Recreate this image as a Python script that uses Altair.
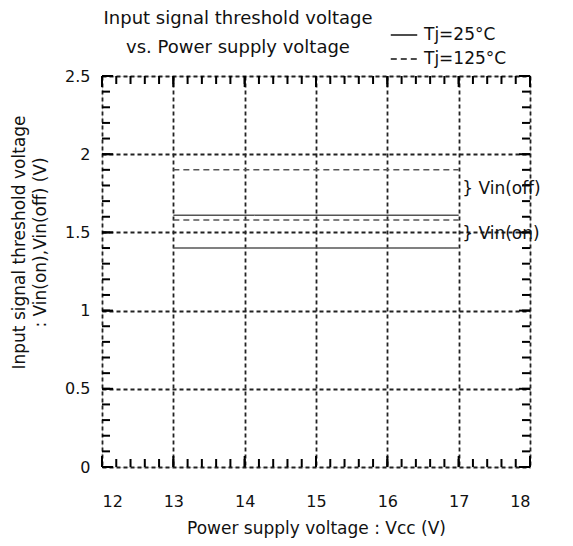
import altair as alt
import pandas as pd
import numpy as np

# ---- data ----
vcc_start = [13, 13, 13, 13]
vcc_end = [17, 17, 17, 17]
levels = [1.61, 1.40, 1.90, 1.58]
series = ["Tj=25°C", "Tj=25°C", "Tj=125°C", "Tj=125°C"]
line_id = ["on25", "off25", "off125", "on125"]

ann_text = ["} Vin(off)", "} Vin(on)"]
ann_x = [17.05, 17.05]
ann_y = [1.78, 1.49]

x_ticks = [12, 13, 14, 15, 16, 17, 18]
y_ticks = [0, 0.5, 1, 1.5, 2, 2.5]
title_lines = ["Input signal threshold voltage", "vs. Power supply voltage"]

W, H = 428, 391
FONT = "DejaVu Sans"

rows = []
for s, e, v, sr, lid in zip(vcc_start, vcc_end, levels, series, line_id):
    rows.append({"vcc": s, "v": v, "series": sr, "id": lid})
    rows.append({"vcc": e, "v": v, "series": sr, "id": lid})
df = pd.DataFrame(rows)

xs = alt.Scale(domain=[12, 18], nice=False, zero=False)
ys = alt.Scale(domain=[0, 2.5], nice=False)

base_x_axis = alt.Axis(values=x_ticks, grid=True, gridDash=[4, 3],
                       gridColor="#222", gridWidth=1.8, ticks=False, domain=False,
                       labelExpr="format(datum.value, 'd')",
                       labelFont=FONT, labelFontSize=16, labelPadding=26, labelColor="#111",
                       title="Power supply voltage : Vcc (V)", titleFont=FONT, titleFontSize=17,
                       titleFontWeight="normal", titleColor="#111", titleY=61, titleBaseline="middle")
base_y_axis = alt.Axis(values=y_ticks, grid=True, gridDash=[4, 3],
                       gridColor="#222", gridWidth=1.8, ticks=False, domain=False,
                       labelFont=FONT, labelFontSize=16, labelPadding=12, labelColor="#111",
                       labelExpr="datum.value == 0 ? '0' : format(datum.value, '.2~f')",
                       title=["Input signal threshold voltage", ": Vin(on),Vin(off) (V)"],
                       titleFont=FONT, titleFontSize=17, titleFontWeight="normal", titleColor="#111",
                       titleX=-74, titleY=166, titleAlign="center", titleLineHeight=21)

lines = alt.Chart(df).mark_line(strokeWidth=1.5, color="#555").encode(
    x=alt.X("vcc:Q", scale=xs, axis=base_x_axis),
    y=alt.Y("v:Q", scale=ys, axis=base_y_axis),
    detail="id:N",
    strokeDash=alt.StrokeDash("series:N",
        scale=alt.Scale(domain=["Tj=25°C", "Tj=125°C"], range=[[1, 0], [6, 4]]),
        legend=alt.Legend(title=None, orient="none", legendX=288, legendY=-55,
                          symbolType="stroke", symbolSize=700, symbolStrokeWidth=1.5,
                          symbolStrokeColor="#111", labelFont=FONT, labelFontSize=17,
                          labelColor="#111", rowPadding=2, labelOffset=6)),
)

# inner ticks
xt_minor = [round(v, 1) for v in np.arange(12, 18.001, 0.2)]
yt_minor = [round(v, 1) for v in np.arange(0, 2.5001, 0.1)]
xt_df = pd.DataFrame({"x": xt_minor})
yt_df = pd.DataFrame({"y": yt_minor})
xM_df = pd.DataFrame({"x": x_ticks})
yM_df = pd.DataFrame({"y": y_ticks})
TL, TM = 8, 11
tick_style = dict(color="#000", strokeWidth=2)


def xticks(d, L):
    b = alt.Chart(d).mark_rule(**tick_style).encode(
        x=alt.X("x:Q", scale=xs), y=alt.value(H), y2=alt.value(H - L))
    t = alt.Chart(d).mark_rule(**tick_style).encode(
        x=alt.X("x:Q", scale=xs), y=alt.value(0), y2=alt.value(L))
    return [b, t]


def yticks(d, L):
    l = alt.Chart(d).mark_rule(**tick_style).encode(
        y=alt.Y("y:Q", scale=ys), x=alt.value(0), x2=alt.value(L))
    r = alt.Chart(d).mark_rule(**tick_style).encode(
        y=alt.Y("y:Q", scale=ys), x=alt.value(W), x2=alt.value(W - L))
    return [l, r]


tick_layers = xticks(xt_df, TL) + xticks(xM_df, TM) + yticks(yt_df, TL) + yticks(yM_df, TM)

ann_df = pd.DataFrame({"x": ann_x, "y": ann_y, "t": ann_text})
ann = alt.Chart(ann_df).mark_text(align="left", baseline="middle", font=FONT, fontSize=17,
                                  color="#111").encode(
    x=alt.X("x:Q", scale=xs), y=alt.Y("y:Q", scale=ys), text="t:N")

title_df = pd.DataFrame({"t": title_lines, "row": [0, 1]})
title1 = alt.Chart(title_df.iloc[[0]]).mark_text(align="center", baseline="middle", font=FONT,
                                                 fontSize=18, color="#111").encode(
    x=alt.value(136), y=alt.value(-57), text="t:N")
title2 = alt.Chart(title_df.iloc[[1]]).mark_text(align="center", baseline="middle", font=FONT,
                                                 fontSize=18, color="#111").encode(
    x=alt.value(136), y=alt.value(-28), text="t:N")

chart = alt.layer(lines, *tick_layers, ann, title1, title2).properties(
    width=W, height=H,
    autosize=alt.AutoSizeParams(type="none"),
    padding={"left": 94, "top": 68, "right": 35, "bottom": 71},
).configure_view(stroke="#000", strokeWidth=2.5).configure(background="white")

chart.save("out.html", embed_options={"renderer": "svg", "actions": False})
